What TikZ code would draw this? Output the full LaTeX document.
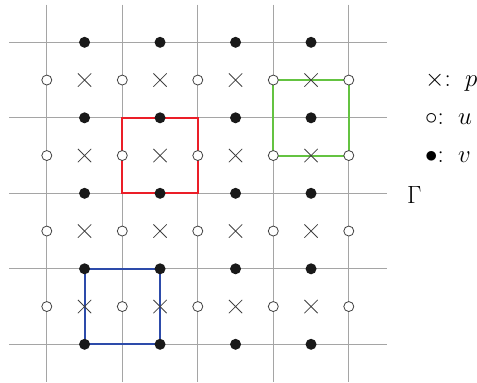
\documentclass[tikz,border=0pt]{standalone}
\usetikzlibrary{shapes.misc}
\definecolor{gridgray}{RGB}{165,165,165}
\definecolor{sqred}{RGB}{235,30,40}
\definecolor{sqgreen}{RGB}{100,195,65}
\definecolor{sqblue}{RGB}{45,75,170}
\tikzset{
  gridline/.style={draw=gridgray, line width=1pt},
  sqbox/.style={line width=2pt},
  vdot/.style={circle, fill=black!90, inner sep=0pt, minimum size=11pt},
  udot/.style={circle, draw=black!75, fill=white, line width=0.8pt, inner sep=0pt, minimum size=10pt},
  pcross/.style={cross out, draw=black!75, line width=0.8pt, inner sep=0pt, minimum size=12.5pt},
  legend/.style={anchor=base west, inner sep=0pt, font=\fontsize{25}{30}\selectfont},
}
\begin{document}
\begin{tikzpicture}[x=1pt, y=-1pt]
\useasboundingbox (0,0) rectangle (477,383);
% grid
\foreach \i in {0,...,4} {
  \pgfmathsetmacro{\gx}{46.8+75.5*\i}
  \pgfmathsetmacro{\gy}{42.3+75.5*\i}
  \coordinate (vt\i) at (\gx,4.5);
  \coordinate (vb\i) at (\gx,382);
  \coordinate (hl\i) at (9,\gy);
  \coordinate (hr\i) at (387,\gy);
  \draw[gridline] (vt\i) -- (vb\i);
  \draw[gridline] (hl\i) -- (hr\i);
}
% squares
\coordinate (r1) at (122.3,117.8);
\coordinate (r2) at (197.8,193.3);
\coordinate (g1) at (273.3,80.05);
\coordinate (g2) at (348.8,155.55);
\coordinate (b1) at (84.55,268.8);
\coordinate (b2) at (160.05,344.3);
\draw[sqbox, draw=sqred] (r1) rectangle (r2);
\draw[sqbox, draw=sqgreen] (g1) -- (g1 -| g2) -- (g2) -- (g2 -| g1) -- cycle;
\draw[sqbox, draw=sqblue] (b1) rectangle (b2);
% v dots: on horizontal lines, midway between vertical lines
\foreach \i in {0,...,4} {
  \foreach \j in {0,...,3} {
    \node[vdot] (v-\i-\j) at ({84.55+75.5*\j},{42.3+75.5*\i}) {};
  }
}
% u circles and p crosses
\foreach \i in {0,...,3} {
  \foreach \j in {0,...,4} {
    \node[udot] (u-\i-\j) at ({46.8+75.5*\j},{80.05+75.5*\i}) {};
  }
  \foreach \j in {0,...,3} {
    \node[pcross] (p-\i-\j) at ({84.55+75.5*\j},{80.05+75.5*\i}) {};
  }
}
% legend
\node[legend] (lp) at (425,86.5) {$\times$: \,$p$};
\node[legend] (lu) at (425,124) {$\circ$: \,$u$};
\node[legend] (lv) at (425,162) {$\bullet$: \,$v$};
\node[legend] (gam) at (407,203) {$\Gamma$};
\end{tikzpicture}
\end{document}
